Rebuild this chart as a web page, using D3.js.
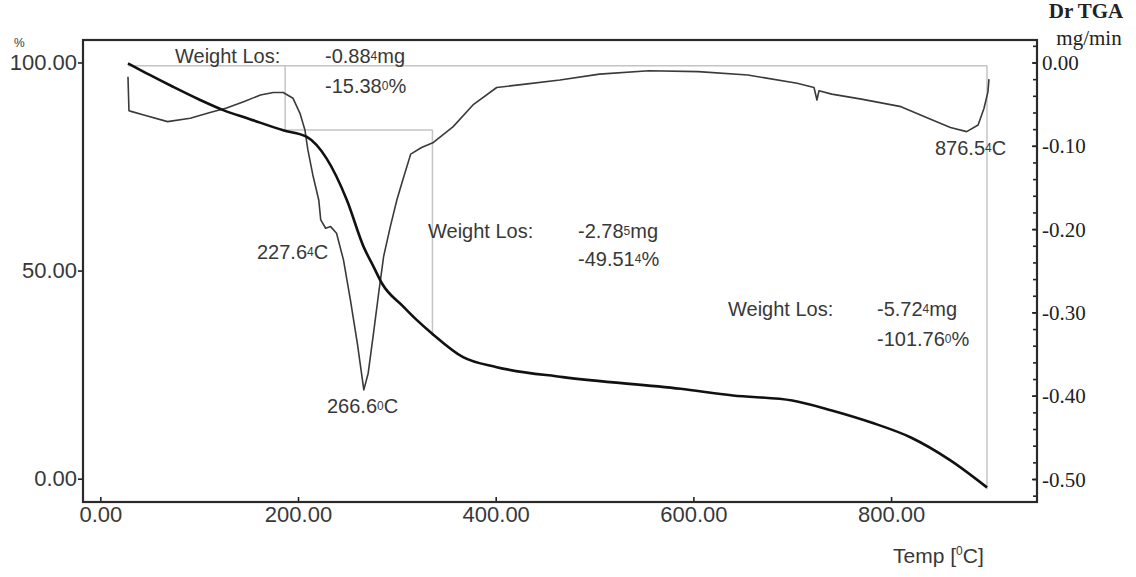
<!DOCTYPE html>
<html>
<head>
<meta charset="utf-8">
<script src="https://cdn.jsdelivr.net/npm/d3@7"></script>
<style>
body { margin: 0; background: #fff; }
svg text { font-family: "Liberation Sans", Arial, sans-serif; fill: #383838; }
svg .serif text, svg text.serif { font-family: "Liberation Serif", "Times New Roman", serif; fill: #222; }
</style>
</head>
<body>
<svg id="tgaChart" width="1136" height="577"></svg>
<script>
// TGA weight curve, %
const tgaTemp   = [28, 50, 74, 100, 125, 150, 185, 209, 229, 249.5, 266.4, 276.5, 285, 306.8, 320.3, 335.5, 367, 401, 468, 587, 640, 700, 740, 780, 820, 860, 897];
const tgaWeight = [99.8, 97.0, 94.1, 91.1, 88.5, 86.5, 83.7, 82.1, 76.9, 66.9, 55.7, 50.9, 46.9, 41.3, 38.1, 34.9, 29.2, 26.8, 24.4, 21.6, 20.0, 18.8, 16.4, 13.5, 9.9, 4.4, -2.1];

// Dr TGA curve, mg/min
const dtgTemp = [28, 29, 32, 44, 68, 91, 111, 127, 145, 162, 175, 185, 195, 202, 207, 210, 215, 221, 223, 228, 233, 239, 246, 253, 260, 266.6, 271, 276.5, 281.6, 286.6, 293.4, 300, 306, 314, 325, 337, 357, 377, 401, 430, 465, 505, 555, 605, 655, 705, 722, 725, 727, 740, 770, 810, 840, 860, 876.5, 888, 894, 898, 899];
const dtgRate = [-0.017, -0.058, -0.059, -0.063, -0.071, -0.067, -0.060, -0.055, -0.047, -0.039, -0.036, -0.036, -0.043, -0.061, -0.081, -0.105, -0.135, -0.165, -0.189, -0.199, -0.197, -0.205, -0.237, -0.285, -0.337, -0.393, -0.373, -0.324, -0.277, -0.233, -0.197, -0.165, -0.141, -0.110, -0.102, -0.096, -0.077, -0.051, -0.030, -0.026, -0.021, -0.014, -0.010, -0.011, -0.015, -0.025, -0.030, -0.045, -0.034, -0.038, -0.044, -0.053, -0.068, -0.078, -0.083, -0.075, -0.055, -0.035, -0.020];

// weight loss steps
const stepTemp   = [28, 187, 336, 897];
const stepWeight = [99.2, 83.8, 34.3, -2.56];
const lossMg  = [["-0.88", "4", "mg"], ["-2.78", "5", "mg"], ["-5.72", "4", "mg"]];
const lossPct = [["-15.38", "0", "%"], ["-49.51", "4", "%"], ["-101.76", "0", "%"]];
const peakLabels = [["227.6", "4", "C"], ["266.6", "0", "C"], ["876.5", "4", "C"]];

const xTicks     = [0, 200, 400, 600, 800];
const leftTicks  = [0, 50, 100];
const rightTicks = [0, -0.1, -0.2, -0.3, -0.4, -0.5];
const rightMinor = d3.range(0.02, -0.53, -0.02);

const svg    = d3.select("#tgaChart"),
      margin = {top: 40, right: 99, bottom: 75, left: 83},
      width  = +svg.attr("width")  - margin.left - margin.right,
      height = +svg.attr("height") - margin.top  - margin.bottom,
      x      = d3.scaleLinear().domain([-17.5, 947.6]).range([0, width]),
      yL     = d3.scaleLinear().domain([-5.6, 105.4]).range([height, 0]),
      yR     = d3.scaleLinear().domain([-0.5276, 0.027]).range([height, 0]),
      g      = svg.append("g")
                  .attr("transform", `translate(${margin.left},${margin.top})`);

svg.append("rect").attr("width", 1136).attr("height", 577).attr("fill", "#fff").lower();

// plain hyphen minus, as printed by the instrument
const fmt = d => d3.format(".2f")(d).replace("\u2212", "-");

// gray weight loss brackets
const gray = "#c4c4c4";
const seg = (t1, w1, t2, w2) => g.append("line")
    .attr("x1", x(t1)).attr("y1", yL(w1))
    .attr("x2", x(t2)).attr("y2", yL(w2))
    .attr("stroke", gray).attr("stroke-width", 1.5);
seg(stepTemp[0], stepWeight[0], stepTemp[3], stepWeight[0]);
seg(stepTemp[1], stepWeight[0], stepTemp[1], stepWeight[1]);
seg(stepTemp[1], stepWeight[1], stepTemp[2], stepWeight[1]);
seg(stepTemp[2], stepWeight[1], stepTemp[2], stepWeight[2]);
seg(stepTemp[3], stepWeight[0], stepTemp[3], stepWeight[3]);

// curves
const dtgLine = d3.line().x((d, i) => x(dtgTemp[i])).y(d => yR(d));
g.append("path")
  .datum(dtgRate)
  .attr("d", dtgLine)
  .attr("fill", "none")
  .attr("stroke", "#3a3a3a")
  .attr("stroke-width", 1.6)
  .attr("stroke-linejoin", "round");

const tgaLine = d3.line().curve(d3.curveMonotoneX).x((d, i) => x(tgaTemp[i])).y(d => yL(d));
g.append("path")
  .datum(tgaWeight)
  .attr("d", tgaLine)
  .attr("fill", "none")
  .attr("stroke", "#111")
  .attr("stroke-width", 2.6);

// axes
const xAxis = g.append("g")
    .attr("transform", `translate(0,${height})`)
    .call(d3.axisBottom(x).tickValues(xTicks).tickFormat(fmt).tickSizeInner(-5).tickSizeOuter(0).tickPadding(4));

const leftAxis = g.append("g")
    .call(d3.axisLeft(yL).tickValues(leftTicks).tickFormat(fmt).tickSizeInner(5).tickSizeOuter(0).tickPadding(1));

g.append("g")
    .attr("transform", `translate(${width},0)`)
    .call(d3.axisRight(yR).tickValues(rightMinor).tickFormat("").tickSizeInner(-4).tickSizeOuter(0));

const rightAxis = g.append("g")
    .attr("class", "serif")
    .attr("transform", `translate(${width},0)`)
    .call(d3.axisRight(yR).tickValues(rightTicks).tickFormat(fmt).tickSizeInner(-5).tickSizeOuter(0).tickPadding(5));

[xAxis, leftAxis, rightAxis].forEach(a => a.select(".domain").remove());
g.selectAll(".tick line").attr("stroke", "#222").attr("stroke-width", 1.6);
xAxis.selectAll("text").style("font-size", "22px");
leftAxis.selectAll("text").style("font-size", "22px");
rightAxis.selectAll("text").style("font-size", "21px").attr("dy", "0.34em");

// frame
g.append("rect")
  .attr("width", width).attr("height", height)
  .attr("fill", "none")
  .attr("stroke", "#2a2a2a")
  .attr("stroke-width", 2.2);

// text with a squeezed digit like the instrument print
function label(px, py, parts, anchor) {
  const t = svg.append("text")
      .attr("x", px).attr("y", py)
      .attr("text-anchor", anchor || "start")
      .style("font-size", "20px");
  t.append("tspan").text(parts[0]);
  t.append("tspan").style("font-size", "12px").attr("dy", -3).text(parts[1]);
  t.append("tspan").attr("dy", 3).text(parts[2]);
  return t;
}

const lossPos = [[175, 325, 63, 93], [428, 578, 238, 266], [728, 877, 316, 346]];
lossPos.forEach((p, i) => {
  svg.append("text").attr("x", p[0]).attr("y", p[2]).style("font-size", "20px").text("Weight Los:");
  label(p[1], p[2], lossMg[i]);
  label(p[1], p[3], lossPct[i]);
});

label(257, 259, peakLabels[0]);
label(327, 413, peakLabels[1]);
label(935, 155, peakLabels[2]);

// axis titles
svg.append("text").attr("x", 14).attr("y", 47).style("font-size", "12px").text("%");

svg.append("text").attr("class", "serif").attr("x", 1086).attr("y", 18)
  .attr("text-anchor", "middle").style("font-size", "21px").style("font-weight", "bold").text("Dr TGA");
svg.append("text").attr("class", "serif").attr("x", 1089).attr("y", 45)
  .attr("text-anchor", "middle").style("font-size", "21px").text("mg/min");

const tt = svg.append("text").attr("x", 893).attr("y", 563).style("font-size", "21px");
tt.append("tspan").text("Temp [");
tt.append("tspan").style("font-size", "12px").attr("dy", -8).text("0");
tt.append("tspan").attr("dy", 8).text("C]");
</script>
</body>
</html>
